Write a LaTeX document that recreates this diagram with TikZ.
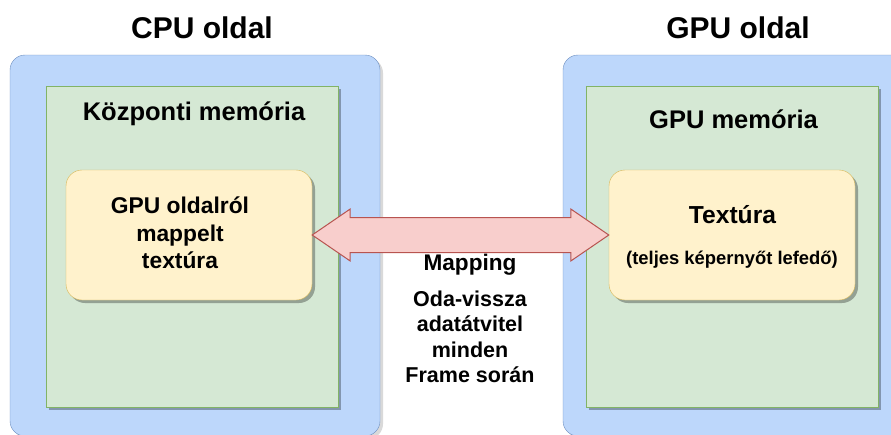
\documentclass[tikz,border=0pt]{standalone}
\usepackage{fontspec}
\setmainfont{Liberation Sans}
\usetikzlibrary{shadows,calc}

\definecolor{sideblue}{RGB}{189,215,251}
\definecolor{sideline}{RGB}{108,142,191}
\definecolor{memgreen}{RGB}{213,232,212}
\definecolor{memline}{RGB}{130,179,102}
\definecolor{texyellow}{RGB}{255,242,204}
\definecolor{texline}{RGB}{214,182,86}
\definecolor{arrred}{RGB}{248,206,204}
\definecolor{arrline}{RGB}{184,84,80}

\begin{document}
\begin{tikzpicture}[
  x=1pt,y=-1pt,
  shd/.style={drop shadow={shadow xshift=3pt,shadow yshift=-3pt,opacity=0.3,fill=black}},
  side/.style={draw=sideline,fill=sideblue,rounded corners=15pt,minimum width=370pt,minimum height=381pt,inner sep=0pt,
    drop shadow={shadow xshift=3pt,shadow yshift=-3pt,opacity=0.15,fill=black}},
  mem/.style={draw=memline,fill=memgreen,minimum width=292pt,minimum height=321pt,inner sep=0pt,shd},
  tex/.style={draw=texline,fill=texyellow,rounded corners=16pt,minimum width=246pt,minimum height=130pt,inner sep=0pt,shd},
  fat/.style={draw=arrline,fill=arrred,line width=1pt,line join=miter},
  ttl/.style={font=\fontsize{30}{36}\selectfont\bfseries,anchor=base,inner sep=0pt},
  hdr/.style={font=\fontsize{25.5}{30}\selectfont\bfseries,anchor=base,inner sep=0pt},
  lbl/.style={font=\fontsize{22}{26}\selectfont\bfseries,align=center,inner sep=0pt}
]
\clip (0,0) rectangle (891,434);

% CPU and GPU sides
\node[side] (cpu) at (195,245.5) {};
\node[side] (gpu) at (748,245.5) {};
\node[ttl] (cpul) at (202,38) {CPU oldal};
\node[ttl] (gpul) at (738,38) {GPU oldal};

% memories
\node[mem] (cmem) at (192,246.5) {};
\node[mem] (gmem) at (732,246.5) {};
\node[hdr] (cmeml) at (194,120) {Központi memória};
\node[hdr] (gmeml) at (733.5,128) {GPU memória};

% textures
\node[tex] (ctex) at (189,235) {};
\node[tex] (gtex) at (732,235) {};
\node[lbl,font=\fontsize{22.8}{27.5}\selectfont\bfseries] (ctexl) at (180,233) {GPU oldalról\\mappelt\\textúra};
\node[hdr,font=\fontsize{24.6}{30}\selectfont\bfseries] (gtexl) at (732.5,223) {Textúra};
\node[hdr,font=\fontsize{18.4}{22}\selectfont\bfseries] (gtexs) at (732,264) {(teljes képernyőt lefedő)};

% mapping arrow
\draw[fat] (ctex.east) -- ++(38,-26) -- ++(0,8.5) -- ($(gtex.west)+(-38,-17.5)$) -- ++(0,-8.5)
  -- (gtex.west) -- ++(-38,26) -- ++(0,-8.5) -- ($(ctex.east)+(38,17.5)$) -- ++(0,8.5) -- cycle;
\node[hdr,font=\fontsize{22.6}{27}\selectfont\bfseries] (mapl) at (470,270) {Mapping};
\node[lbl,font=\fontsize{21.5}{25.5}\selectfont\bfseries] (mapd) at (470,337) {Oda-vissza\\adatátvitel\\minden\\Frame során};
\end{tikzpicture}
\end{document}
